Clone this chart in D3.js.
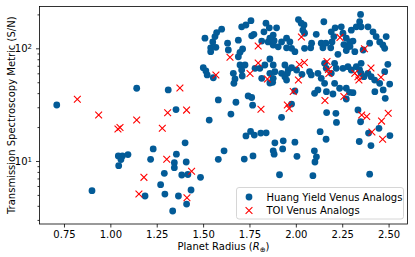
<!DOCTYPE html>
<html>
<head>
<meta charset="utf-8">
<script src="https://cdn.jsdelivr.net/npm/d3@7/dist/d3.min.js"></script>
<style>
  html, body { margin: 0; padding: 0; background: #fff; }
  svg text { font-family: "DejaVu Sans", sans-serif; fill: #000; }
</style>
</head>
<body>
<div id="chart"></div>
<script>
// Huang yield Venus analogs : planet radius (R_earth) and TSM
var huangRadius = [
  0.711, 0.901, 1.043, 1.065, 1.095, 1.057, 1.045, 1.142, 1.187, 1.217,
  1.231, 1.271, 1.291, 1.294, 1.354, 1.312, 1.336, 1.345, 1.345, 1.356,
  1.367, 1.385, 1.403, 1.409, 1.411, 1.418, 1.435, 1.486, 1.533, 1.582,
  1.677, 1.650, 1.743, 1.762, 1.767, 1.613, 1.582, 1.722, 1.769, 1.731,
  1.756, 1.776, 1.811, 1.840, 1.887, 1.932, 1.995, 1.878, 1.883, 1.929,
  2.006, 1.912, 1.923, 1.977, 1.995, 1.860, 2.166, 2.216, 2.219, 2.335,
  2.349, 2.448, 2.392, 2.507, 2.342, 2.405, 2.131, 2.163, 2.100, 2.111,
  2.103, 2.092, 2.398,
  1.510, 1.541, 1.541, 1.552, 1.564, 1.573, 1.600, 1.569, 1.632, 1.636,
  1.690, 1.708, 1.731, 1.758, 1.762, 1.774, 1.713, 1.699, 1.690, 1.839,
  1.857, 1.828, 1.896, 1.878, 1.816, 1.851, 1.878, 1.905, 1.923, 1.950,
  1.968, 1.950, 1.977, 2.014, 1.883, 1.995, 1.860,
  1.501, 1.515, 1.522, 1.555, 1.663, 1.672, 1.666, 1.699, 1.726, 1.708,
  1.711, 1.780, 1.806, 1.860, 1.833, 1.878, 1.887, 1.860, 1.816, 1.878,
  1.875, 1.941, 1.959, 1.954, 1.977, 1.923, 1.941, 1.950, 2.004,
  2.029, 2.044, 2.038, 2.047, 2.047, 2.080, 2.110, 2.151, 2.137, 2.146,
  2.162, 2.191, 2.212, 2.205, 2.195, 2.188, 2.245, 2.254, 2.272, 2.259,
  2.281, 2.272, 2.299, 2.326, 2.344, 2.349, 2.352, 2.290, 2.308, 2.292,
  2.389, 2.416, 2.398, 2.433, 2.452, 2.469, 2.479, 2.487, 2.363, 2.227,
  2.496, 2.506, 2.318, 2.085,
  2.033, 2.074, 2.083, 2.119, 2.155, 2.164, 2.191, 2.209, 2.218, 2.137,
  2.155, 2.209, 2.254, 2.281, 2.299, 2.326, 2.344, 2.352, 2.352, 2.367,
  2.389, 2.406, 2.425, 2.452, 2.479, 2.272, 2.290, 2.236, 2.119, 2.101,
  2.165, 2.200, 2.426, 2.471, 2.482, 2.272, 2.308
];
var huangTSM = [
  31.4, 5.45, 11.1, 11.1, 11.4, 10.3, 9.08, 44.2, 4.89, 10.35,
  12.8, 6.17, 7.78, 5.09, 28.6, 42.7, 3.60, 9.66, 8.72, 11.5,
  4.89, 7.51, 14.5, 9.8, 4.15, 7.59, 5.53, 7.16, 23.1, 34.8,
  33.2, 26.1, 37.8, 36.6, 31.3, 12.3, 10.35, 10.4, 11.1, 16.7,
  18.3, 17.0, 17.7, 17.8, 14.5, 15.1, 14.7, 12.3, 11.5, 12.8,
  11.0, 7.55, 24.4, 32.0, 41.8, 49.2, 26.9, 26.5, 22.0, 28.4,
  22.3, 19.5, 17.7, 16.8, 14.9, 13.7, 18.2, 15.6, 12.3, 10.9,
  9.8, 7.41, 7.64,
  123, 101, 93.3, 114, 127, 138, 148, 102, 111, 96.6,
  118, 155, 161, 176, 129, 133, 98.6, 92.2, 84.2, 167,
  152, 140, 152, 131, 116, 114, 107, 103, 114, 123,
  114, 101, 100, 180, 117, 93.3, 123,
  67.3, 62.9, 58, 54.8, 60, 53.4, 48.9, 71.1, 71.1, 64.2,
  56.8, 66.5, 66.5, 80.4, 71.1, 71.1, 62, 60, 54.2, 54.2,
  49.9, 71.1, 64.2, 60, 67.3, 60, 56, 52.3, 64.2,
  167, 161, 145, 136, 100, 101, 133, 172, 111, 101,
  111, 140, 152, 127, 114, 101, 155, 136, 123, 108,
  103, 95.6, 145, 155, 172, 200, 155, 114, 116, 104,
  155, 140, 111, 127, 114, 107, 100, 127, 96.6, 88.5,
  72.1, 48.2, 93.3, 111,
  58.8, 62, 58, 60, 73.6, 66.5, 60, 73.6, 66.5, 54.2,
  48.9, 48.9, 66.5, 68.7, 64.2, 68.7, 64.2, 73.6, 60, 56,
  60, 56, 52.3, 48.9, 62, 44.2, 40.7, 44.2, 42.7, 39.9,
  41.2, 39.3, 41.2, 42.7, 36.0, 35.5, 40.4
];

// TOI Venus analogs
var toiRadius = [
  0.822, 0.937, 1.041, 1.052, 1.142, 1.154, 1.181, 1.280, 1.304, 1.309,
  1.375, 1.411, 1.413, 1.438, 1.569, 1.645, 1.753, 1.797, 1.797, 1.812,
  1.847, 1.954, 1.964, 1.986, 2.014, 2.019, 2.046, 2.030, 2.157, 2.168,
  2.176, 2.178, 2.238, 2.259, 2.318, 2.335, 2.340, 2.355, 2.382, 2.370,
  2.405, 2.459, 2.462, 2.498, 2.410, 2.468
];
var toiTSM = [
  35.3, 25.6, 19.2, 19.8, 23.1, 5.09, 7.16, 19.5, 10.35, 26.8,
  44.4, 28.3, 4.72, 8.1, 58, 83.2, 59.8, 104.8, 74.1, 28.8,
  53.4, 31.4, 29.2, 41.4, 52.3, 71.8, 74.8, 126, 34.4, 76.4,
  64.8, 59.8, 125, 37.4, 60, 56, 52.3, 25.6, 24.8, 99,
  66.9, 55.4, 22.6, 26.5, 18.1, 15.6
];

var xTicks = [0.75, 1.00, 1.25, 1.50, 1.75, 2.00, 2.25, 2.50];
var yMajorTicks = [10, 100];
var yMinorTicks = [3, 4, 5, 6, 7, 8, 9, 20, 30, 40, 50, 60, 70, 80, 90, 200];

var width = 415, height = 257;
var padL = 39.5, padR = 407.5, padT = 6.5, padB = 224;
var blue = "#035b97", red = "#ff0000";

var svg = d3.select("#chart").append("svg")
  .attr("width", width)
  .attr("height", height);

var x = d3.scaleLinear().domain([0.618, 2.602]).range([padL, padR]);
var y = d3.scaleLog().domain([2.76, 235]).range([padB, padT]);

var huang = huangRadius.map(function (r, i) { return { r: r, t: huangTSM[i] }; });
var toi = toiRadius.map(function (r, i) { return { r: r, t: toiTSM[i] }; });

// points
var plot = svg.append("g");
plot.selectAll("circle.huang")
  .data(huang).enter()
  .append("circle")
  .attr("class", "huang")
  .attr("cx", function (d) { return x(d.r); })
  .attr("cy", function (d) { return y(d.t); })
  .attr("r", 3.4)
  .style("fill", blue);

var cross = "M-3.4,-3.4L3.4,3.4M-3.4,3.4L3.4,-3.4";
plot.selectAll("path.toi")
  .data(toi).enter()
  .append("path")
  .attr("class", "toi")
  .attr("d", cross)
  .attr("transform", function (d) { return "translate(" + x(d.r) + "," + y(d.t) + ")"; })
  .style("stroke", red)
  .style("stroke-width", 1.1)
  .style("fill", "none");

// axes
var xAxis = d3.axisBottom(x).tickValues(xTicks).tickFormat(d3.format(".2f"))
  .tickSize(3.5).tickPadding(3.5).tickSizeOuter(0);
var gx = svg.append("g").attr("transform", "translate(0," + padB + ")").call(xAxis);
gx.select(".domain").remove();
gx.selectAll("text").style("font-size", "10px");

var yMinor = d3.axisLeft(y).tickValues(yMinorTicks).tickFormat("").tickSize(2).tickSizeOuter(0);
var gym = svg.append("g").attr("transform", "translate(" + padL + ",0)").call(yMinor);
gym.select(".domain").remove();

var yAxis = d3.axisLeft(y).tickValues(yMajorTicks).tickFormat("")
  .tickSize(3.5).tickSizeOuter(0);
var gy = svg.append("g").attr("transform", "translate(" + padL + ",0)").call(yAxis);
gy.select(".domain").remove();
gy.selectAll(".tick").each(function (d) {
  var t = d3.select(this).append("text")
    .attr("x", -7.5)
    .attr("dy", "0.32em")
    .attr("text-anchor", "end")
    .style("font-size", "10px");
  t.append("tspan").text("10");
  t.append("tspan").attr("dy", "-0.45em").style("font-size", "7px").text(Math.round(Math.log10(d)));
});
svg.selectAll(".tick line").style("stroke", "#000").style("stroke-width", 0.8);

// frame
svg.append("rect")
  .attr("x", padL).attr("y", padT)
  .attr("width", padR - padL).attr("height", padB - padT)
  .style("fill", "none").style("stroke", "#000").style("stroke-width", 0.8);

// labels
svg.append("text")
  .attr("x", (padL + padR) / 2).attr("y", 249.5)
  .attr("text-anchor", "middle").style("font-size", "10px")
  .call(function (t) {
    t.append("tspan").text("Planet Radius (");
    t.append("tspan").style("font-style", "italic").text("R");
    t.append("tspan").attr("dy", 2).style("font-size", "7px").text("\u2295");
    t.append("tspan").attr("dy", -2).text(")");
  });

svg.append("text")
  .attr("transform", "translate(15," + ((padT + padB) / 2) + ") rotate(-90)")
  .attr("text-anchor", "middle").style("font-size", "10px")
  .text("Transmission Spectroscopy Metric (S/N)");

// legend
var lg = svg.append("g").attr("transform", "translate(236.5,187.5)");
lg.append("rect")
  .attr("width", 167).attr("height", 31.5).attr("rx", 2.5)
  .style("fill", "#fff").style("fill-opacity", 0.8)
  .style("stroke", "#cccccc").style("stroke-width", 0.8);
lg.append("circle").attr("cx", 12.5).attr("cy", 9.5).attr("r", 3.4).style("fill", blue);
lg.append("path").attr("d", cross).attr("transform", "translate(12.5,23)")
  .style("stroke", red).style("stroke-width", 1.1).style("fill", "none");
lg.append("text").attr("x", 30).attr("y", 13).style("font-size", "10px").text("Huang Yield Venus Analogs");
lg.append("text").attr("x", 30).attr("y", 26.5).style("font-size", "10px").text("TOI Venus Analogs");
</script>
</body>
</html>
